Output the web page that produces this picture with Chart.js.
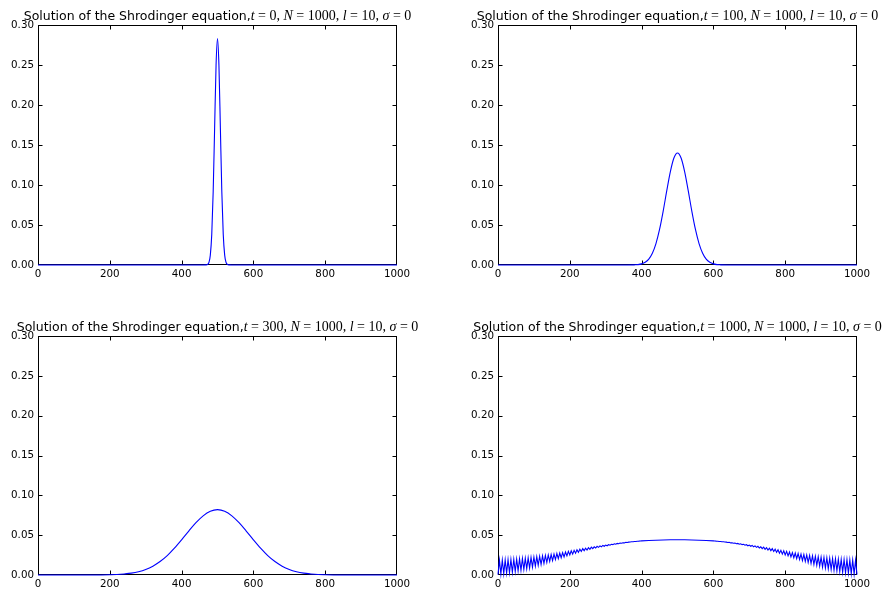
<!DOCTYPE html>
<html><head><meta charset="utf-8">
<script src="https://cdn.jsdelivr.net/npm/chart.js@4/dist/chart.umd.min.js"></script>
<style>
html,body{margin:0;padding:0;background:#fff;width:882px;height:591px;overflow:hidden}
canvas{position:absolute;left:0;top:0}
</style></head><body>
<canvas id="c0" width="882" height="591"></canvas>
<canvas id="c1" width="882" height="591"></canvas>
<canvas id="c2" width="882" height="591"></canvas>
<canvas id="c3" width="882" height="591"></canvas>
<script>
// ---------- data ----------
const titlePrefix = "Solution of the Shrodinger equation,";
const timeValues = [0, 100, 300, 1000];
const nValue = 1000, lValue = 10, sigmaValue = 0;
const xTickValues = [0, 200, 400, 600, 800, 1000];
const yTickValues = [0.00, 0.05, 0.10, 0.15, 0.20, 0.25, 0.30];

// t = 0
const xT0 = [0, 460, 468, 472, 476, 480, 484, 488, 492, 496, 500, 504, 508, 512, 516, 520, 524, 528, 532, 540, 1000];
const yT0 = [0, 0, 0.0001, 0.0006, 0.0031, 0.0124, 0.0383, 0.0920, 0.1717, 0.2497, 0.283, 0.2497, 0.1717, 0.0920, 0.0383, 0.0124, 0.0031, 0.0006, 0.0001, 0, 0];

// t = 100
const xT100 = [0, 360, 380, 390, 400, 410, 420, 430, 440, 450, 460, 470, 480, 490, 500, 510, 520, 530, 540, 550, 560, 570, 580, 590, 600, 610, 620, 640, 1000];
const yT100 = [0, 0, 0.0002, 0.0005, 0.0014, 0.0034, 0.0074, 0.0148, 0.0268, 0.0444, 0.0671, 0.0926, 0.1165, 0.1337, 0.140, 0.1337, 0.1165, 0.0926, 0.0671, 0.0444, 0.0268, 0.0148, 0.0074, 0.0034, 0.0014, 0.0005, 0.0002, 0, 0];

// t = 300
const xT300 = [0, 160, 200, 220, 240, 260, 280, 300, 320, 340, 360, 380, 400, 420, 440, 460, 480, 500, 520, 540, 560, 580, 600, 620, 640, 660, 680, 700, 720, 740, 760, 780, 800, 840, 1000];
const yT300 = [0, 0, 0.0003, 0.0006, 0.0013, 0.0023, 0.0041, 0.0069, 0.0111, 0.0169, 0.0244, 0.0337, 0.0442, 0.0552, 0.0657, 0.0743, 0.0800, 0.082, 0.0800, 0.0743, 0.0657, 0.0552, 0.0442, 0.0337, 0.0244, 0.0169, 0.0111, 0.0069, 0.0041, 0.0023, 0.0013, 0.0006, 0.0003, 0, 0];

// t = 1000
const xT1000 = [
  0,4,8,12,16,20,24,28,32,36,40,44,48,52,56,60,64,68,72,76,80,84,88,92,96,100,
  104,108,112,116,120,124,128,132,136,140,144,148,152,156,160,164,168,172,176,180,184,188,192,196,200,
  204,208,212,216,220,224,228,232,236,240,244,248,252,256,260,264,268,272,276,280,284,288,292,296,300,
  304,308,312,316,320,324,328,332,336,340,344,348,352,356,360,364,368,372,376,380,384,388,392,396,400,
  420,440,460,480,500,520,540,560,580,
  600,604,608,612,616,620,624,628,632,636,640,644,648,652,656,660,664,668,672,676,680,684,688,692,696,700,
  704,708,712,716,720,724,728,732,736,740,744,748,752,756,760,764,768,772,776,780,784,788,792,796,800,
  804,808,812,816,820,824,828,832,836,840,844,848,852,856,860,864,868,872,876,880,884,888,892,896,900,
  904,908,912,916,920,924,928,932,936,940,944,948,952,956,960,964,968,972,976,980,984,988,992,996,1000
];
const yT1000 = [
  0.0005,0.0186,0.0011,0.0188,0.0017,0.0190,0.0023,0.0192,0.0029,0.0194,0.0035,0.0197,0.0043,0.0200,0.0052,0.0204,0.0060,0.0208,0.0069,0.0211,0.0077,0.0215,0.0088,0.0220,0.0099,0.0225,
  0.0111,0.0230,0.0122,0.0235,0.0133,0.0240,0.0145,0.0246,0.0157,0.0252,0.0170,0.0257,0.0182,0.0263,0.0194,0.0270,0.0205,0.0276,0.0217,0.0282,0.0228,0.0289,0.0240,0.0296,0.0251,
  0.0303,0.0262,0.0310,0.0273,0.0317,0.0284,0.0324,0.0295,0.0331,0.0306,0.0337,0.0314,0.0343,0.0322,0.0349,0.0331,0.0354,0.0339,0.0360,0.0347,0.0366,0.0354,0.0371,0.0361,0.0376,
  0.0367,0.0381,0.0374,0.0386,0.0381,0.0392,0.0386,0.0396,0.0392,0.0401,0.0398,0.0405,0.0403,0.0410,0.0408,0.0413,0.0414,0.0417,0.0418,0.0420,0.0421,0.0424,0.0425,0.0427,0.0428,
  0.0433,0.0437,0.0440,0.0442,0.0443,0.0442,0.0440,0.0437,0.0433,
  0.0428,0.0427,0.0425,0.0424,0.0421,0.0420,0.0418,0.0417,0.0414,0.0413,0.0408,0.0410,0.0403,0.0405,0.0398,0.0401,0.0392,0.0396,0.0386,0.0392,0.0381,0.0386,0.0374,0.0381,0.0367,0.0376,
  0.0361,0.0371,0.0354,0.0366,0.0347,0.0360,0.0339,0.0354,0.0331,0.0349,0.0322,0.0343,0.0314,0.0337,0.0306,0.0331,0.0295,0.0324,0.0284,0.0317,0.0273,0.0310,0.0262,0.0303,0.0251,
  0.0296,0.0240,0.0289,0.0228,0.0282,0.0217,0.0276,0.0205,0.0270,0.0194,0.0263,0.0182,0.0257,0.0170,0.0252,0.0157,0.0246,0.0145,0.0240,0.0133,0.0235,0.0122,0.0230,0.0111,0.0225,
  0.0099,0.0220,0.0088,0.0215,0.0077,0.0211,0.0069,0.0208,0.0060,0.0204,0.0052,0.0200,0.0043,0.0197,0.0035,0.0194,0.0029,0.0192,0.0023,0.0190,0.0017,0.0188,0.0011,0.0186,0.0005
];

const seriesX = [xT0, xT100, xT300, xT1000];
const seriesY = [yT0, yT100, yT300, yT1000];

// ---------- layout / style ----------
const panels = [
  {L: 38, R: 397, T: 25, B: 265},
  {L: 498, R: 857, T: 25, B: 265},
  {L: 38, R: 397, T: 336, B: 575},
  {L: 498, R: 857, T: 336, B: 575}
];
const Y_W = 34, X_H = 14;
const tickFont = {family: '"DejaVu Sans"', size: 10.3};
const titleFont = '12.5px "DejaVu Sans"';
const mathFont = '14px "Liberation Serif"';
const mathItalic = 'italic 14px "Liberation Serif"';

const framePlugin = {
  id: 'frame',
  beforeDatasetsDraw(chart) {
    const {ctx, chartArea: a} = chart;
    const xs = chart.scales.x, ys = chart.scales.y;
    ctx.save();
    ctx.strokeStyle = '#000';
    ctx.lineWidth = 1;
    const l = Math.round(a.left) + 0.5, r = Math.round(a.right) - 0.5;
    const t = Math.round(a.top) + 0.5, b = Math.round(a.bottom) - 0.5;
    ctx.strokeRect(l, t, r - l, b - t);
    ctx.beginPath();
    const TL = 4;
    xTickValues.forEach(v => {
      const px = Math.min(r, Math.max(l, Math.round(xs.getPixelForValue(v)) + 0.5));
      ctx.moveTo(px, b); ctx.lineTo(px, b - TL);
      ctx.moveTo(px, t); ctx.lineTo(px, t + TL);
    });
    yTickValues.forEach(v => {
      const py = Math.min(b, Math.max(t, Math.round(ys.getPixelForValue(v)) + 0.5));
      ctx.moveTo(l, py); ctx.lineTo(l + TL, py);
      ctx.moveTo(r, py); ctx.lineTo(r - TL, py);
    });
    ctx.stroke();
    ctx.restore();
  },
  afterDraw(chart) {
    const {ctx, chartArea: a} = chart;
    const tVal = chart.options.plugins.frame.tValue;
    const parts = [
      {s: titlePrefix, f: titleFont},
      {s: 't', f: mathItalic}, {s: ' = ', f: mathFont}, {s: tVal + ', ', f: mathFont},
      {s: 'N', f: mathItalic}, {s: ' = ', f: mathFont}, {s: nValue + ', ', f: mathFont},
      {s: 'l', f: mathItalic}, {s: ' = ', f: mathFont}, {s: lValue + ', ', f: mathFont},
      {s: 'σ', f: mathItalic}, {s: ' = ', f: mathFont}, {s: String(sigmaValue), f: mathFont}
    ];
    ctx.save();
    let total = 0;
    parts.forEach(p => { ctx.font = p.f; p.w = ctx.measureText(p.s).width; total += p.w; });
    let x = (a.left + a.right) / 2 - total / 2;
    const base = a.top - 5;
    ctx.fillStyle = '#000';
    ctx.textBaseline = 'alphabetic';
    ctx.textAlign = 'left';
    parts.forEach(p => { ctx.font = p.f; ctx.fillText(p.s, x, base); x += p.w; });
    ctx.restore();
  }
};

panels.forEach((p, i) => {
  const data = seriesX[i].map((x, k) => ({x: x, y: seriesY[i][k]}));
  new Chart(document.getElementById('c' + i), {
    type: 'line',
    data: {datasets: [{
      data: data,
      borderColor: '#0000ff',
      borderWidth: 1.1,
      pointRadius: 0,
      fill: false,
      tension: 0,
      cubicInterpolationMode: i === 3 ? 'default' : 'monotone',
      clip: false
    }]},
    options: {
      responsive: false,
      animation: false,
      devicePixelRatio: 1,
      events: [],
      layout: {padding: {left: p.L - Y_W, right: 882 - p.R, top: p.T, bottom: 591 - p.B - X_H}},
      plugins: {legend: {display: false}, tooltip: {enabled: false}, title: {display: false}, frame: {tValue: timeValues[i]}},
      scales: {
        x: {
          type: 'linear', min: 0, max: 1000,
          grid: {display: false, drawTicks: false},
          border: {display: false},
          afterFit(s) { s.height = X_H; },
          afterBuildTicks(s) { s.ticks = xTickValues.map(v => ({value: v})); },
          ticks: {color: '#000', font: tickFont, padding: 3, maxRotation: 0, autoSkip: false, callback: v => String(v)}
        },
        y: {
          type: 'linear', min: 0, max: 0.3,
          grid: {display: false, drawTicks: false},
          border: {display: false},
          afterFit(s) { s.width = Y_W; },
          afterBuildTicks(s) { s.ticks = yTickValues.map(v => ({value: v})); },
          ticks: {color: '#000', font: tickFont, padding: 4, autoSkip: false, callback: v => Number(v).toFixed(2)}
        }
      }
    },
    plugins: [framePlugin]
  });
});
</script>
</body></html>
